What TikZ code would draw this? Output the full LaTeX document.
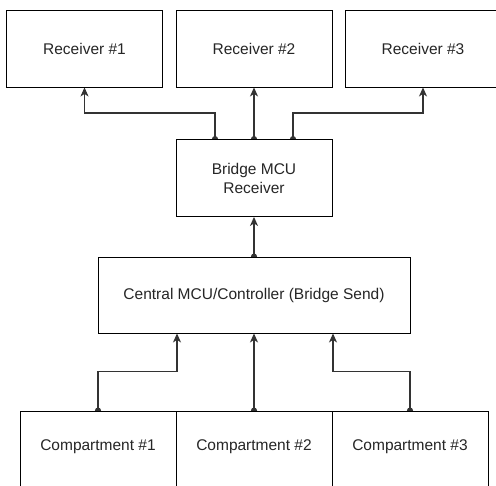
\documentclass[tikz,border=0pt]{standalone}
\usepackage{fontspec}
\setmainfont{Liberation Sans}
\usetikzlibrary{arrows.meta,backgrounds}
\tikzset{
  box/.style={draw=black, fill=white, line width=0.9pt, rectangle, inner sep=0pt,
    minimum width=156pt, minimum height=77pt, font=\fontsize{15.5}{19}\selectfont, text=black!85, align=center},
  conn/.style={draw=black!80, line width=1.1pt, shorten <=-3pt,
    {Circle[length=6pt]}-{Stealth[length=9pt,width=8pt,inset=2.5pt]}}
}
\begin{document}
\begin{tikzpicture}[x=1pt,y=-1pt]
\useasboundingbox (0,0) rectangle (496,486);
\clip (0,0) rectangle (496,486);
\node[box] (r1) at (84.5,48.5) {Receiver \#1};
\node[box] (r2) at (254,48.5) {Receiver \#2};
\node[box] (r3) at (423,48.5) {Receiver \#3};
\node[box] (br) at (254,178) {Bridge MCU\\Receiver};
\node[box, minimum width=312pt, minimum height=76pt] (ce) at (254,295) {Central MCU/Controller (Bridge Send)};
\node[box, minimum height=90pt, text depth=0pt] (c1) at (98,456) {};
\node[box, minimum height=90pt] (c2) at (254,456) {};
\node[box, minimum height=90pt] (c3) at (410,456) {};
\node[font=\fontsize{15.5}{19}\selectfont, text=black!85] (t1) at (98,447) {Compartment \#1};
\node[font=\fontsize{15.5}{19}\selectfont, text=black!85] (t2) at (254,447) {Compartment \#2};
\node[font=\fontsize{15.5}{19}\selectfont, text=black!85] (t3) at (410,447) {Compartment \#3};
\begin{scope}[on background layer]
\draw[conn] ([xshift=-39pt]br.north) -- ++(0,-26) -| (r1.south);
\draw[conn] (br.north) -- (r2.south);
\draw[conn] ([xshift=39pt]br.north) -- ++(0,-26) -| (r3.south);
\draw[conn] (ce.north) -- (br.south);
\draw[conn] (c1.north) -- ++(0,-39) -| ([xshift=-77pt]ce.south);
\draw[conn] (c2.north) -- (ce.south);
\draw[conn] (c3.north) -- ++(0,-39) -| ([xshift=79pt]ce.south);
\end{scope}
\end{tikzpicture}
\end{document}
